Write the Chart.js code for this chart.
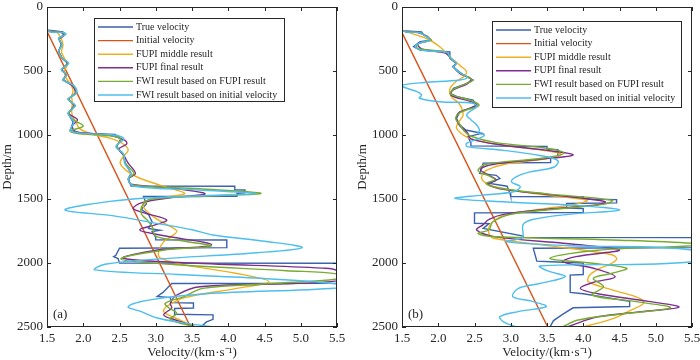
<!DOCTYPE html>
<html>
<head>
<meta charset="utf-8">
<script src="https://cdn.jsdelivr.net/npm/chart.js@4.4.1/dist/chart.umd.min.js"></script>
<style>
  body{margin:0;background:#fff;width:700px;height:360px;position:relative;overflow:hidden}
  canvas{position:absolute;top:0}
  #cA{left:0} #cB{left:350px}
</style>
</head>
<body>
<canvas id="cA" width="350" height="360"></canvas>
<canvas id="cB" width="350" height="360"></canvas>
<script>
// velocity profiles, [depth m, velocity km/s]
const names = ["True velocity","Initial velocity","FUPI middle result","FUPI final result",
  "FWI result based on FUPI result","FWI result based on initial velocity"];
const colors = ["#3a62ad","#d95319","#edb120","#7e2f8e","#77ac30","#4dbeee"];
const xTicks = [1.5,2.0,2.5,3.0,3.5,4.0,4.5,5.0,5.5];
const yTicks = [0,500,1000,1500,2000,2500];

// panel (a)
const trueA = [[0,1.5],[180,1.5],[195,1.72],[215,1.74],[245,1.66],[290,1.70],[345,1.66],[400,1.71],[440,1.79],[490,1.70],[530,1.77],[570,1.72],[610,1.86],[670,1.91],[720,1.79],[770,1.89],[830,1.79],[900,1.86],[965,1.82],[985,1.96],[995,2.44],[1030,2.52],[1090,2.46],[1150,2.55],[1220,2.58],[1300,2.66],[1340,2.62],[1398,2.66],[1400,4.09],[1428,4.09],[1430,4.23],[1452,4.23],[1455,4.12],[1478,4.12],[1480,2.83],[1540,2.87],[1580,2.80],[1620,2.90],[1680,2.95],[1730,2.90],[1745,3.06],[1755,2.95],[1800,3.00],[1818,3.00],[1820,3.98],[1880,3.98],[1885,2.50],[1940,2.45],[1950,2.42],[1965,2.48],[2000,2.50],[2002,5.5],[2158,5.5],[2160,3.22],[2230,3.10],[2262,3.02],[2270,3.20],[2310,3.22],[2312,3.52],[2352,3.52],[2355,3.26],[2400,3.26],[2405,3.79],[2440,3.79],[2460,3.70],[2500,3.62]];
const initA = [[0,1.5],[190,1.5],[2500,3.48]];
const midA = [[0,1.5],[175,1.5],[200,1.64],[250,1.70],[300,1.72],[350,1.70],[400,1.74],[450,1.78],[500,1.74],[550,1.76],[600,1.82],[650,1.86],[700,1.84],[750,1.85],[800,1.84],[850,1.85],[900,1.90],[950,1.95],[990,2.10],[1030,2.40],[1070,2.55],[1117,2.62],[1170,2.55],[1221,2.51],[1280,2.60],[1330,2.75],[1400,3.10],[1456,3.40],[1480,3.20],[1520,2.88],[1560,2.83],[1640,2.97],[1700,3.15],[1750,3.29],[1790,3.22],[1833,3.11],[1911,3.04],[1960,3.06],[2015,3.40],[2080,4.10],[2146,4.56],[2200,4.10],[2270,3.40],[2340,3.15],[2380,3.11],[2445,3.33],[2500,3.55]];
const finA = [[0,1.5],[180,1.5],[200,1.70],[225,1.73],[250,1.67],[300,1.70],[350,1.66],[400,1.71],[440,1.78],[490,1.71],[530,1.76],[570,1.73],[615,1.85],[670,1.89],[720,1.80],[770,1.87],[830,1.80],[880,1.92],[930,1.85],[975,1.90],[1000,2.35],[1040,2.57],[1070,2.60],[1110,2.49],[1160,2.56],[1220,2.62],[1300,2.72],[1340,2.63],[1385,2.66],[1420,3.30],[1461,3.68],[1490,3.20],[1530,2.80],[1575,2.69],[1610,2.85],[1664,3.15],[1700,3.00],[1742,2.78],[1781,3.06],[1859,3.77],[1900,3.00],[1963,2.55],[2000,3.50],[2040,5.30],[2060,5.5],[2140,5.5],[2185,3.61],[2250,3.29],[2315,3.20],[2350,3.22],[2406,3.11],[2450,3.30],[2500,3.55]];
const fwiFA = [[0,1.5],[180,1.5],[200,1.72],[220,1.74],[245,1.67],[295,1.70],[345,1.66],[400,1.71],[440,1.79],[490,1.70],[530,1.77],[570,1.72],[610,1.86],[670,1.90],[720,1.80],[770,1.88],[830,1.80],[880,1.86],[930,2.00],[970,1.82],[990,1.95],[1010,2.42],[1040,2.52],[1090,2.46],[1150,2.55],[1220,2.58],[1300,2.70],[1345,2.62],[1390,2.68],[1420,3.60],[1455,4.45],[1475,3.80],[1500,2.95],[1534,2.83],[1612,2.80],[1664,2.88],[1716,2.95],[1790,3.00],[1830,3.40],[1868,3.76],[1900,3.10],[1969,2.52],[2010,3.20],[2060,4.80],[2085,5.5],[2125,5.5],[2160,4.60],[2198,3.65],[2260,3.40],[2315,3.13],[2350,3.18],[2393,3.29],[2440,3.20],[2500,3.55]];
const fwiIA = [[0,1.5],[180,1.5],[200,1.74],[215,1.76],[245,1.66],[295,1.71],[345,1.66],[400,1.71],[440,1.80],[490,1.70],[530,1.77],[570,1.72],[610,1.86],[670,1.91],[720,1.79],[770,1.89],[830,1.79],[900,1.87],[965,1.82],[985,1.98],[1000,2.42],[1030,2.56],[1090,2.45],[1150,2.56],[1220,2.57],[1300,2.66],[1345,2.62],[1400,2.70],[1430,3.60],[1458,4.40],[1475,3.60],[1500,2.69],[1540,2.10],[1586,1.75],[1630,2.40],[1690,3.01],[1740,3.50],[1781,3.79],[1830,4.50],[1880,5.02],[1920,4.40],[1970,3.00],[2010,2.30],[2054,2.16],[2090,3.30],[2125,4.60],[2165,5.5],[2195,5.5],[2240,3.70],[2290,2.90],[2341,2.62],[2380,2.80],[2430,3.02],[2470,3.40],[2500,3.80]];

// panel (b)
const trueB = [[0,1.5],[185,1.5],[195,1.77],[220,1.80],[232,1.84],[260,1.90],[270,1.75],[310,1.66],[336,1.75],[350,2.16],[401,2.16],[440,2.25],[466,2.20],[520,2.32],[545,2.39],[570,2.48],[600,2.38],[635,2.21],[674,2.16],[700,2.26],[727,2.48],[766,2.53],[790,2.44],[818,2.30],[870,2.25],[922,2.30],[961,2.38],[987,2.60],[1013,2.41],[1060,2.45],[1085,2.45],[1090,3.50],[1110,3.50],[1115,3.65],[1170,3.65],[1175,3.55],[1215,3.55],[1220,2.62],[1260,2.60],[1300,2.57],[1315,2.80],[1340,2.85],[1352,2.80],[1378,2.71],[1400,2.95],[1456,2.99],[1480,3.00],[1482,4.00],[1500,4.00],[1505,4.46],[1530,4.46],[1535,3.77],[1570,3.77],[1575,4.00],[1605,4.00],[1608,2.50],[1690,2.50],[1692,2.70],[1730,2.62],[1790,3.17],[1800,3.17],[1802,5.5],[1880,5.5],[1885,3.31],[1985,3.36],[1990,3.55],[2000,4.00],[2090,4.00],[2095,3.82],[2230,3.82],[2240,4.00],[2300,4.64],[2340,4.64],[2350,3.86],[2400,3.72],[2450,3.59],[2500,3.54]];
const initB = [[0,1.5],[200,1.5],[2500,3.51]];
const midB = [[0,1.5],[175,1.5],[200,1.60],[250,1.85],[310,2.02],[388,2.16],[466,2.32],[505,2.39],[540,2.36],[580,2.25],[640,2.16],[700,2.18],[750,2.28],[800,2.33],[850,2.34],[900,2.28],[940,2.25],[980,2.30],[1030,2.45],[1080,2.90],[1120,3.45],[1150,3.70],[1180,3.55],[1230,2.90],[1280,2.65],[1320,2.60],[1360,2.62],[1400,2.75],[1460,3.35],[1510,4.05],[1540,3.90],[1580,3.40],[1630,2.90],[1680,2.75],[1720,2.70],[1770,2.70],[1807,2.76],[1870,3.60],[1930,4.35],[1963,4.46],[2000,4.40],[2050,4.20],[2094,4.09],[2146,4.07],[2210,4.40],[2276,4.78],[2315,4.83],[2370,4.65],[2432,4.42],[2500,4.00]];
const finB = [[0,1.5],[180,1.5],[200,1.72],[230,1.85],[260,1.88],[290,1.72],[330,1.78],[360,2.10],[400,2.17],[440,2.24],[470,2.22],[520,2.30],[560,2.45],[600,2.40],[650,2.20],[690,2.18],[740,2.45],[770,2.53],[820,2.30],[870,2.25],[930,2.30],[980,2.40],[1030,2.45],[1080,2.90],[1120,3.50],[1156,3.86],[1190,3.40],[1230,2.75],[1270,2.58],[1320,2.72],[1352,2.80],[1380,2.68],[1420,2.85],[1470,3.60],[1520,4.30],[1545,4.20],[1580,3.50],[1620,2.90],[1660,2.70],[1700,2.62],[1742,2.53],[1794,2.77],[1850,3.80],[1898,4.50],[1950,3.90],[1990,3.72],[2041,4.14],[2107,4.44],[2150,4.15],[2198,3.96],[2240,4.20],[2300,4.90],[2345,5.32],[2380,4.80],[2420,4.20],[2458,3.98],[2500,3.78]];
const fwiFB = [[0,1.5],[180,1.5],[200,1.74],[230,1.84],[260,1.90],[280,1.75],[320,1.70],[355,2.12],[400,2.17],[440,2.25],[470,2.21],[520,2.32],[550,2.42],[575,2.47],[600,2.38],[640,2.22],[680,2.17],[730,2.45],[770,2.56],[820,2.32],[870,2.24],[920,2.30],[970,2.36],[1010,2.45],[1060,2.80],[1100,3.45],[1140,3.73],[1180,3.45],[1230,2.65],[1280,2.55],[1320,2.70],[1350,2.78],[1380,2.66],[1420,2.90],[1460,3.50],[1510,4.40],[1540,4.30],[1580,3.60],[1620,3.00],[1680,2.75],[1740,2.70],[1770,2.55],[1795,2.80],[1820,4.40],[1846,5.5],[1865,5.5],[1900,4.20],[1963,3.54],[2000,4.10],[2041,4.60],[2080,4.40],[2120,4.14],[2185,4.28],[2250,4.12],[2300,4.70],[2350,5.20],[2400,4.50],[2445,3.93],[2500,3.71]];
const fwiIB = [[0,1.5],[180,1.5],[200,1.74],[225,1.82],[260,1.88],[280,1.75],[310,1.68],[340,1.80],[355,2.12],[400,2.17],[440,2.25],[470,2.21],[520,2.32],[550,2.40],[570,2.30],[590,1.80],[610,1.50],[625,1.52],[660,1.70],[688,1.77],[713,1.74],[740,2.02],[752,2.48],[779,2.53],[810,2.45],[844,2.39],[880,2.45],[922,2.53],[961,2.57],[985,2.55],[1000,2.64],[1030,2.55],[1065,2.39],[1091,2.40],[1120,2.90],[1160,3.40],[1200,3.65],[1250,3.60],[1290,3.25],[1326,3.08],[1365,3.01],[1404,3.13],[1443,3.04],[1470,2.60],[1495,2.23],[1520,2.80],[1550,3.90],[1586,4.50],[1620,3.80],[1660,3.30],[1700,3.17],[1780,3.17],[1807,3.15],[1833,2.93],[1865,3.80],[1898,5.5],[1990,5.5],[2023,3.40],[2060,3.50],[2107,3.75],[2160,3.40],[2200,3.10],[2263,3.03],[2300,3.30],[2341,3.49],[2380,3.10],[2419,2.85],[2460,2.90],[2500,3.08]];

const FONT = "'Liberation Serif','Times New Roman',serif";
const INK = "#262626";

function frame(tag, lg){
  return {
    id: 'frame'+tag,
    afterDraw(chart){
      const c = chart.ctx, a = chart.chartArea, sx = chart.scales.x, sy = chart.scales.y;
      c.save();
      c.strokeStyle = INK; c.lineWidth = 1;
      c.strokeRect(Math.round(a.left)+0.5, Math.round(a.top)+0.5, Math.round(a.right-a.left)-1, Math.round(a.bottom-a.top)-1);
      c.beginPath();
      xTicks.forEach(v => {
        const x = Math.round(sx.getPixelForValue(v))+0.5;
        c.moveTo(x, a.bottom); c.lineTo(x, a.bottom-4);
        c.moveTo(x, a.top); c.lineTo(x, a.top+4);
      });
      yTicks.forEach(v => {
        const y = Math.round(sy.getPixelForValue(v))+0.5;
        c.moveTo(a.left, y); c.lineTo(a.left+4, y);
        c.moveTo(a.right, y); c.lineTo(a.right-4, y);
      });
      c.stroke();
      // legend box
      c.fillStyle = "#fff";
      c.fillRect(lg.x, lg.y, lg.w, lg.h);
      c.strokeStyle = INK;
      c.strokeRect(lg.x+0.5, lg.y+0.5, lg.w, lg.h);
      c.font = "10px " + FONT;
      c.textBaseline = "middle";
      names.forEach((n, i) => {
        const y = lg.y + 9 + i*13.6;
        c.strokeStyle = colors[i]; c.lineWidth = 1.4;
        c.beginPath(); c.moveTo(lg.x+4, y); c.lineTo(lg.x+39, y); c.stroke();
        c.fillStyle = INK;
        c.fillText(n, lg.x+42, y);
      });
      c.font = "13px " + FONT;
      c.fillText(tag, a.left+6, a.bottom-12);
      c.restore();
    }
  };
}

function makeChart(id, series, padLeft, yWidth, padRight, tag, lg){
  const order = [6,5,4,3,2,1];
  // true and initial models are blocky/straight; inverted ones are smooth
  const smooth = [0,0,0.35,0.35,0.35,0.35];
  return new Chart(document.getElementById(id), {
    type: 'scatter',
    data: {
      datasets: series.map((s, i) => ({
        label: names[i],
        data: s.map(p => ({x: p[1], y: p[0]})),
        showLine: true,
        borderColor: colors[i],
        backgroundColor: colors[i],
        borderWidth: 1.4,
        pointRadius: 0,
        tension: smooth[i],
        order: order[i]
      }))
    },
    options: {
      responsive: false,
      animation: false,
      devicePixelRatio: 1,
      layout: {padding: {top: 7, right: padRight, left: padLeft, bottom: 0}},
      plugins: {legend: {display: false}, tooltip: {enabled: false}},
      scales: {
        x: {
          type: 'linear', min: 1.5, max: 5.5,
          grid: {display: false, drawTicks: false}, border: {display: false},
          ticks: {stepSize: 0.5, padding: 4, maxRotation: 0, color: INK, font: {family: FONT, size: 13},
                  callback: v => Number(v).toFixed(1)},
          title: {display: true, text: "Velocity/(km·s⁻¹)", color: INK, font: {family: FONT, size: 13}, padding: 0},
          afterFit: s => { s.height = 33; s.paddingLeft = 0; s.paddingRight = 0; }
        },
        y: {
          type: 'linear', min: 0, max: 2500, reverse: true,
          grid: {display: false, drawTicks: false}, border: {display: false},
          ticks: {stepSize: 500, padding: 4, color: INK, font: {family: FONT, size: 13},
                  callback: v => String(v)},
          title: {display: true, text: "Depth/m", color: INK, font: {family: FONT, size: 13}, padding: 0},
          afterFit: s => { s.width = yWidth; s.paddingTop = 0; s.paddingBottom = 0; }
        }
      }
    },
    plugins: [frame(tag, lg)]
  });
}

makeChart('cA', [trueA, initA, midA, finA, fwiFA, fwiIA], 0, 47, 13, "(a)", {x: 94, y: 18, w: 190, h: 83});
makeChart('cB', [trueB, initB, midB, finB, fwiFB, fwiIB], 5, 47, 8, "(b)", {x: 142, y: 21, w: 189, h: 86});
</script>
</body>
</html>
